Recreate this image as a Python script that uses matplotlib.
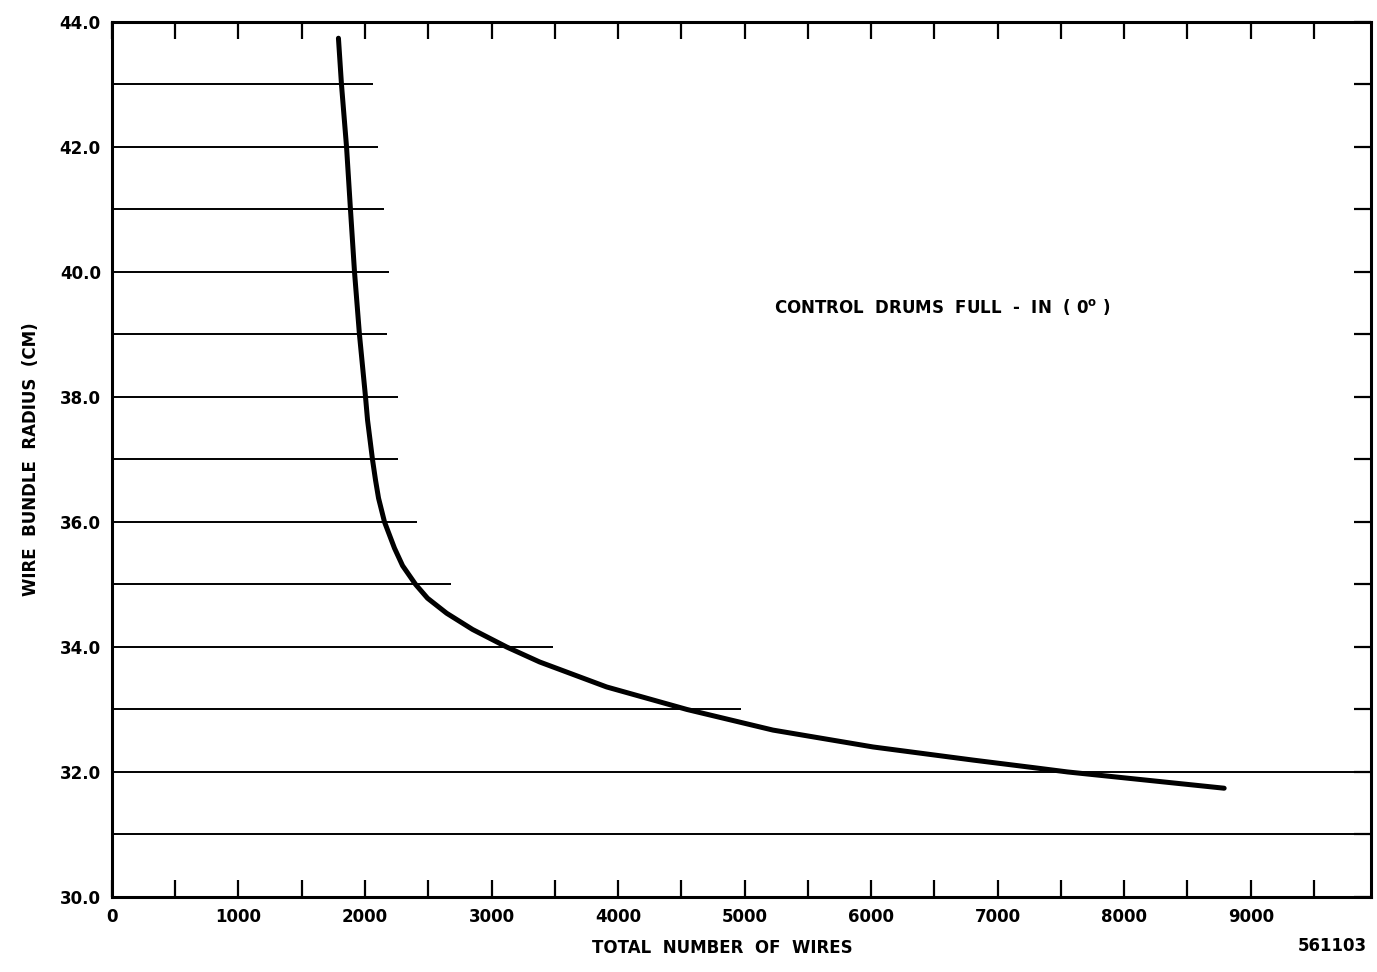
import numpy as np
import matplotlib
matplotlib.use('Agg')
import matplotlib.pyplot as plt

# Curve
wires = [1790, 1814, 1854, 1885, 1917, 1956, 2004, 2020, 2059, 2083, 2107, 2154,
         2233, 2297, 2400, 2494, 2645, 2850, 3119, 3380, 3910, 4544, 5224,
         6015, 6806, 7281, 7553, 8790]
radius = [43.74, 43.0, 42.0, 41.0, 40.0, 39.0, 38.0, 37.63, 37.0, 36.67, 36.38, 36.0,
          35.58, 35.3, 35.0, 34.78, 34.54, 34.28, 34.0, 33.76, 33.36, 33.0, 32.67,
          32.40, 32.19, 32.07, 32.0, 31.74]

# Horizontal reference lines: radius level and how far they run
line_levels = [43, 42, 41, 40, 39, 38, 37, 36, 35, 34, 33, 32, 31]
line_ends = [2063, 2103, 2151, 2190, 2175, 2262, 2262, 2413, 2683, 3484, 4968, 9950, 9950]

x_ticks = [0, 1000, 2000, 3000, 4000, 5000, 6000, 7000, 8000, 9000]
y_ticks = [30, 32, 34, 36, 38, 40, 42, 44]

plt.rcParams['font.family'] = ['DejaVu Sans']
font = dict(fontsize=12, fontweight='bold')

fig = plt.figure(figsize=(13.77, 9.72), dpi=100)
ax = fig.add_axes([0.0813, 0.0772, 0.9143, 0.9002])

for lvl, end in zip(line_levels, line_ends):
    ax.hlines(lvl, 0, end, color='black', linewidth=1.4)

ax.plot(wires, radius, color='black', linewidth=3.6,
        solid_capstyle='round', solid_joinstyle='round')

ax.set_xlim(0, 9950)
ax.set_ylim(30, 44)

for s in ax.spines.values():
    s.set_linewidth(2.2)

# bottom / top ticks every 500, inward
ax.set_xticks(np.arange(0, 10000, 500), minor=True)
ax.set_xticks(x_ticks)
ax.set_xticklabels([str(v) for v in x_ticks], **font)
ax.tick_params(axis='x', which='both', direction='in', length=12, width=1.6,
               top=True, pad=8)

ax.set_yticks(y_ticks)
ax.set_yticklabels(['%.1f' % v for v in y_ticks], **font)
ax.set_yticks(np.arange(31, 44, 1), minor=True)
ax.tick_params(axis='y', which='both', direction='in', length=12, width=1.6,
               left=False, right=True, pad=8)

ax.set_xlabel('TOTAL  NUMBER  OF  WIRES', **font)
ax.xaxis.set_label_coords(0.485, -0.048)
ax.set_ylabel('WIRE  BUNDLE  RADIUS  (CM)', labelpad=14, **font)

ax.text(6560, 39.44, 'CONTROL  DRUMS  FULL  -  IN  ( 0$^{\\mathbf{o}}$ )',
        ha='center', va='center', **font)
fig.text(0.993, 0.027, '561103', ha='right', va='center', **font)

fig.savefig('out.png', dpi=100)
